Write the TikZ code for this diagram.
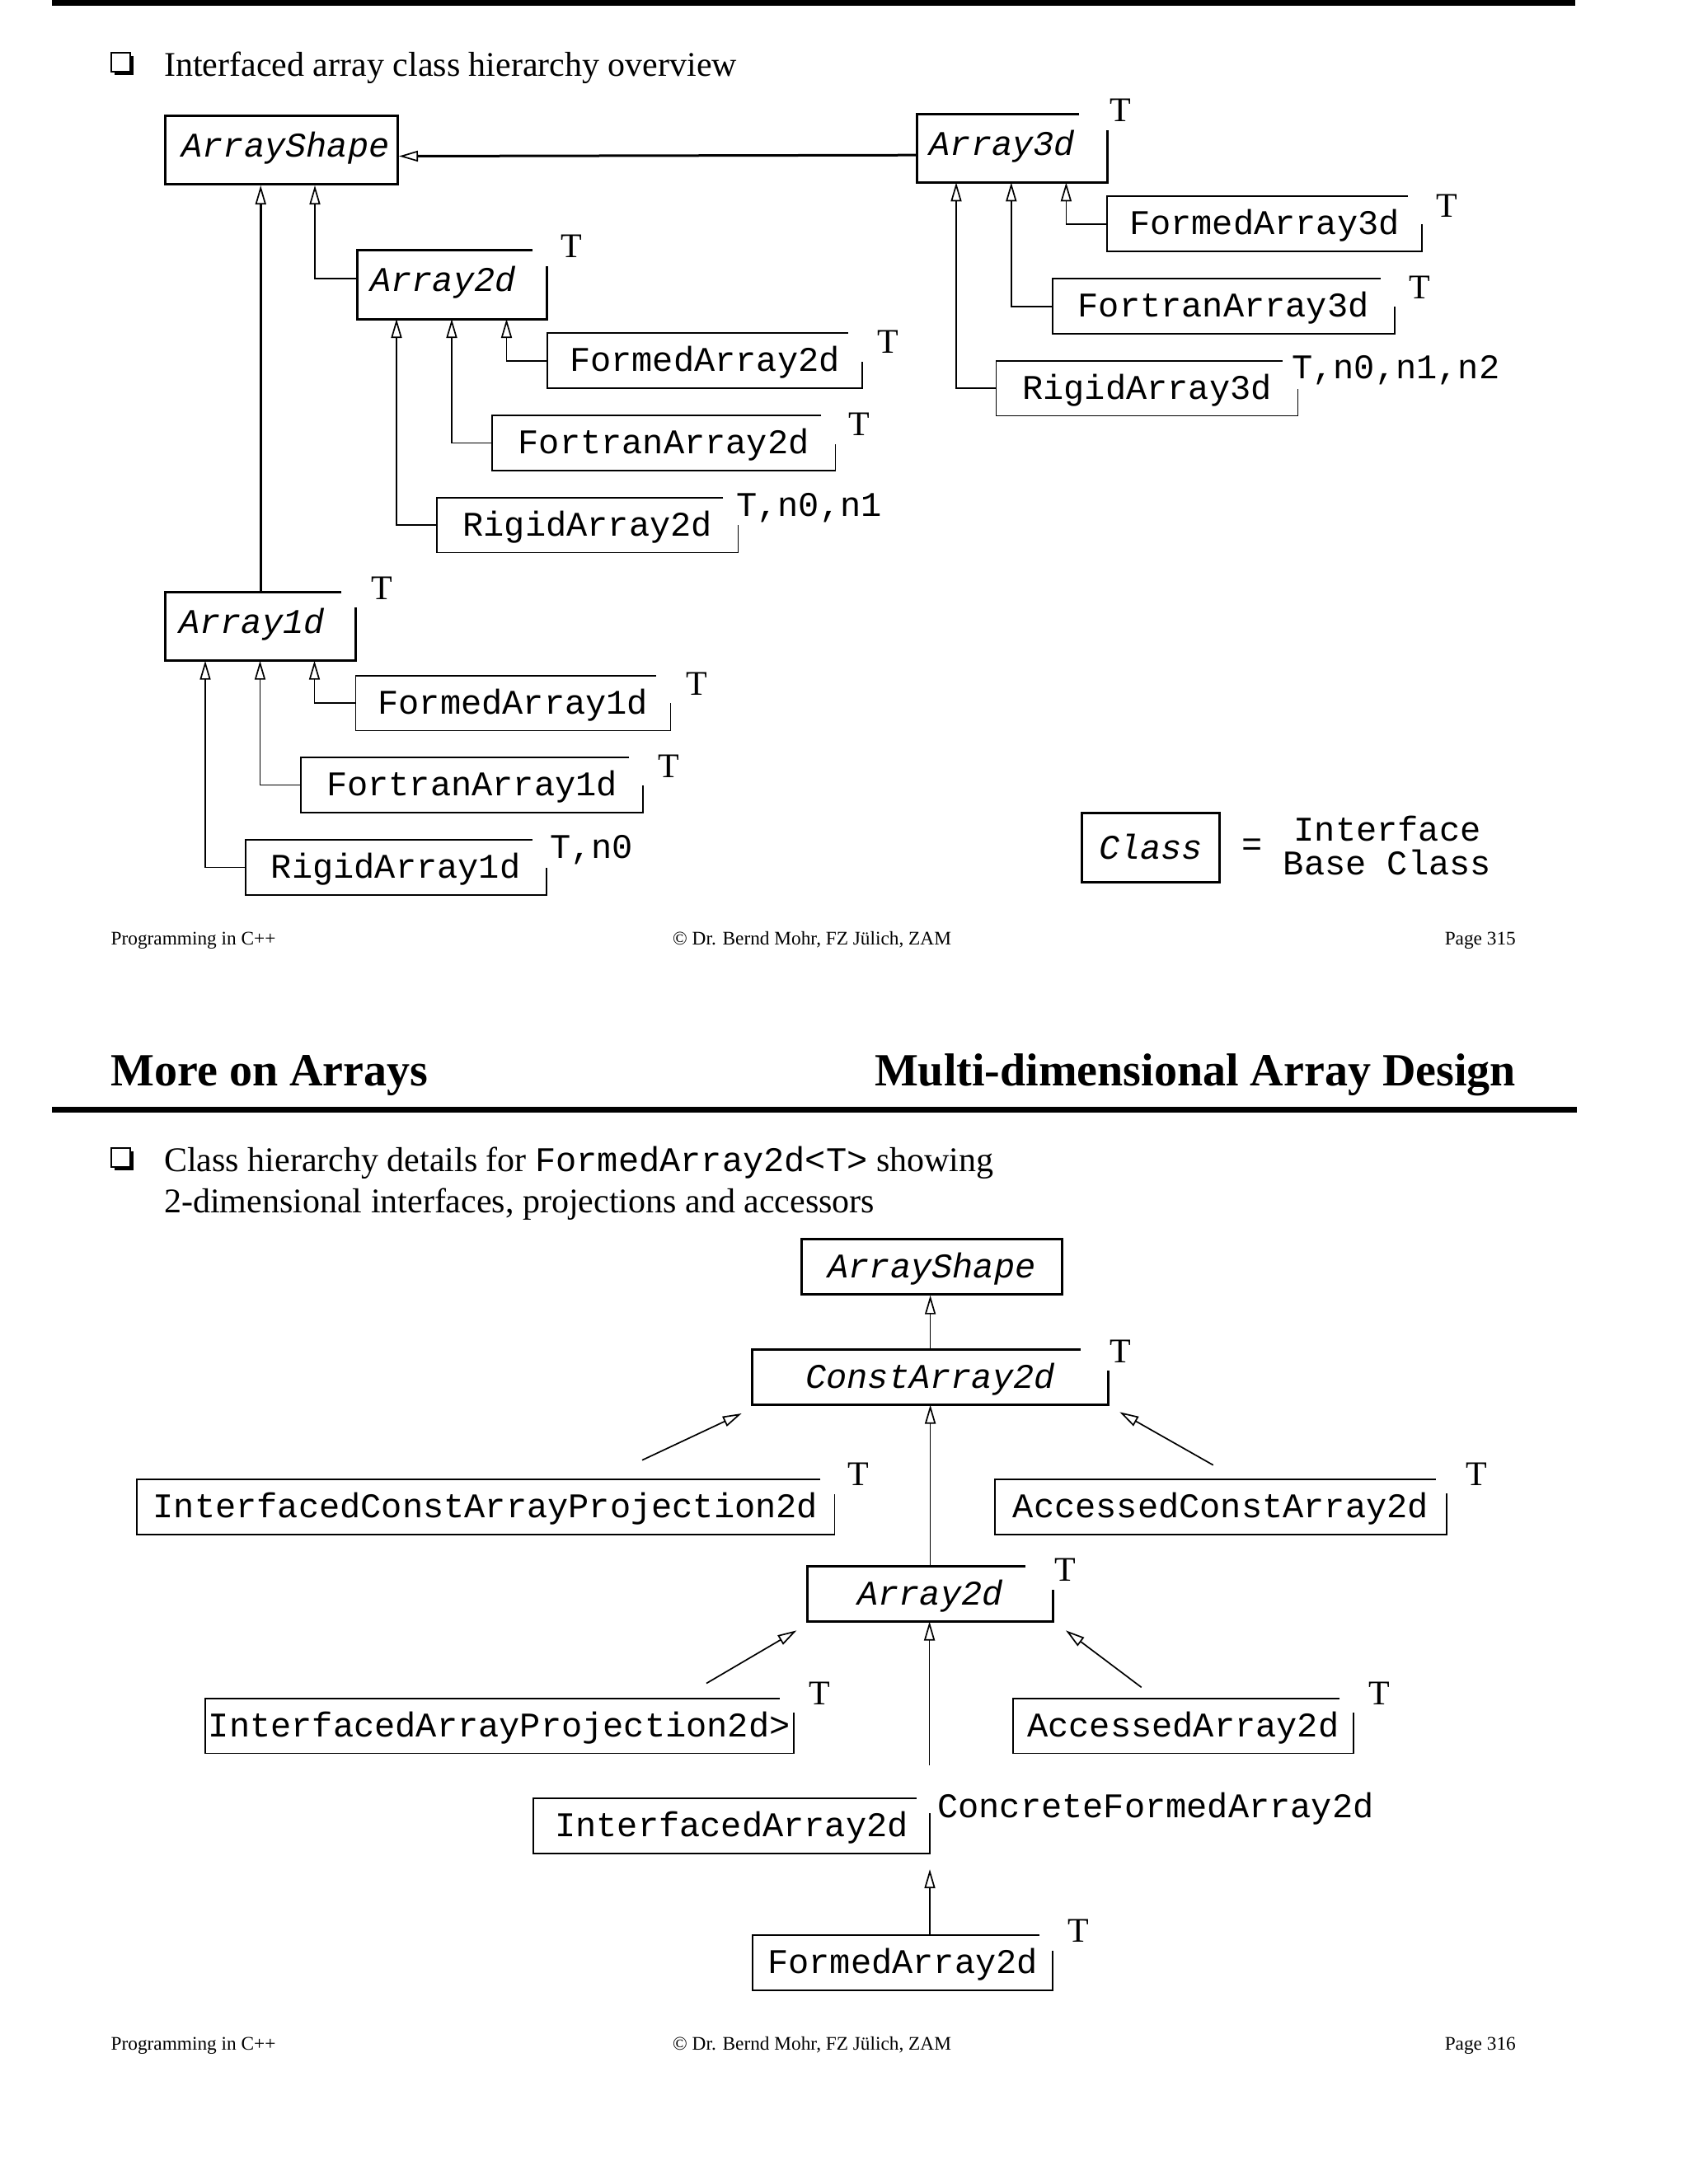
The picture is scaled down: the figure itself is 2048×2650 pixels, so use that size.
\documentclass[tikz,border=0pt]{standalone}
\usepackage{fontspec}
\setmainfont{Liberation Serif}
\setmonofont{Liberation Mono}
\usetikzlibrary{arrows.meta}

\newcommand\bodyfnt{\fontsize{42pt}{50pt}\selectfont}
\newcommand\monofnt{\fontsize{42pt}{50pt}\selectfont\ttfamily}
\newcommand\monoitfnt{\fontsize{42pt}{50pt}\selectfont\ttfamily\itshape}
\newcommand\footfnt{\fontsize{23.3pt}{28pt}\selectfont}
\newcommand\headfnt{\fontsize{56pt}{66pt}\selectfont\bfseries}
\newcommand\lp[3]{\hbox to #1pt{\hskip #2pt\relax #3\hfil}}
% template box: node, horizontal gap, vertical gap, style
\newcommand\tpl[4]{\draw[#4] ([xshift=-#2pt]#1.north east) -- (#1.north west) -- (#1.south west) -- (#1.south east) -- ([yshift=-#3pt]#1.north east);}

\tikzset{
  cbox/.style={inner sep=0pt, text height=46.4pt, text depth=20pt, font=\monofnt, anchor=north west},
  ibox/.style={inner sep=0pt, text height=50pt, text depth=33pt, font=\monoitfnt, anchor=north west},
  iline/.style={line width=3pt, line join=miter},
  cline/.style={line width=1.8pt, line join=miter},
  inh/.style={line width=1.7pt, -{Triangle[open,length=23pt,width=13pt]}},
  inhthick/.style={line width=3pt, -{Triangle[open,length=23pt,width=13pt,line width=1.7pt]}},
  tlab/.style={font=\bodyfnt, anchor=base west, inner sep=0pt},
  plab/.style={font=\monofnt, anchor=base west, inner sep=0pt},
  txt/.style={font=\bodyfnt, anchor=base west, inner sep=0pt},
  foot/.style={font=\footfnt, inner sep=0pt},
  head/.style={font=\headfnt, inner sep=0pt}
}

\begin{document}
\begin{tikzpicture}[x=1pt,y=-1pt]
\useasboundingbox (0,0) rectangle (2048,2650);
\fill[white] (0,0) rectangle (2048,2650);

% ---------- page 315 ----------
\fill (63,0) rectangle (1911,6.5);
\fill (139,68) rectangle (162,91);
\filldraw[fill=white, line width=1.5pt] (135,64) rectangle (158,87);
\node[txt] (b1) at (199,92.5) {Interfaced array class hierarchy overview};

% interface classes
\node[ibox, draw, line width=3pt] (as1) at (199,139) {\lp{282}{20}{ArrayShape}};
\node[ibox] (a3) at (1112,138) {\lp{231}{15.5}{Array3d}}; \tpl{a3}{34}{20}{iline}
\node[ibox] (a2) at (433.5,303.6) {\lp{230}{15.5}{Array2d}}; \tpl{a2}{17.6}{19.4}{iline}
\node[ibox] (a1) at (200.7,718.3) {\lp{230.7}{16.3}{Array1d}}; \tpl{a1}{17.4}{18.7}{iline}

% concrete classes 2d
\node[cbox, minimum width=381.7pt] (fa2) at (663.8,404.3) {FormedArray2d}; \tpl{fa2}{17}{35}{cline}
\node[cbox, minimum width=416pt] (ft2) at (597,504) {FortranArray2d}; \tpl{ft2}{17}{35}{cline}
\node[cbox, minimum width=365pt] (ra2) at (530,603.7) {RigidArray2d}; \tpl{ra2}{18}{33}{cline}
% concrete classes 1d
\node[cbox, minimum width=381.6pt] (fa1) at (431.4,819.7) {FormedArray1d}; \tpl{fa1}{17.6}{33.3}{cline}
\node[cbox, minimum width=415.1pt] (ft1) at (364.8,919) {FortranArray1d}; \tpl{ft1}{17}{34.3}{cline}
\node[cbox, minimum width=364.5pt] (ra1) at (297.7,1019) {RigidArray1d}; \tpl{ra1}{17}{34}{cline}
% concrete classes 3d
\node[cbox, minimum width=381.7pt] (fa3) at (1342.8,238.3) {FormedArray3d}; \tpl{fa3}{17}{34}{cline}
\node[cbox, minimum width=414.5pt] (ft3) at (1276.7,338.3) {FortranArray3d}; \tpl{ft3}{17}{34}{cline}
\node[cbox, minimum width=365.7pt] (ra3) at (1208.4,437.7) {RigidArray3d}; \tpl{ra3}{19}{34}{cline}

% template parameters
\node[tlab] (ta3) at (1346,147) {T};
\node[tlab] (ta2) at (680,312) {T};
\node[tlab] (ta1) at (450,727) {T};
\node[tlab] (tfa2) at (1064,428) {T};
\node[tlab] (tft2) at (1029,528) {T};
\node[plab] (tra2) at (893,626) {T,n0,n1};
\node[tlab] (tfa1) at (832,843) {T};
\node[tlab] (tft1) at (798,943) {T};
\node[plab] (tra1) at (667,1041) {T,n0};
\node[tlab] (tfa3) at (1742,263) {T};
\node[tlab] (tft3) at (1709,362) {T};
\node[plab] (tra3) at (1567,459) {T,n0,n1,n2};

% connectors
\draw[inhthick] ([yshift=-8.5pt]a3.west) -- ([yshift=-7.5pt]as1.east);
\draw[inhthick] (a1.north) -- (a1.north |- as1.south);
\draw[inh] ([yshift=7pt]a2.west) -| ([xshift=183pt]as1.south west);
\draw[inh] (fa2.west) -| ([xshift=181pt]a2.south west);
\draw[inh] (ft2.west) -| ([xshift=114.5pt]a2.south west);
\draw[inh] (ra2.west) -| ([xshift=47.5pt]a2.south west);
\draw[inh] (fa1.west) -| ([xshift=180.8pt]a1.south west);
\draw[inh] (ft1.west) -| ([xshift=114.8pt]a1.south west);
\draw[inh] (ra1.west) -| ([xshift=48.3pt]a1.south west);
\draw[inh] (fa3.west) -| ([xshift=181.4pt]a3.south west);
\draw[inh] (ft3.west) -| ([xshift=114.8pt]a3.south west);
\draw[inh] (ra3.west) -| ([xshift=48pt]a3.south west);

% legend
\node[inner sep=0pt, text height=55.7pt, text depth=28.3pt, font=\monoitfnt, anchor=north west,
      minimum width=166.2pt, draw, line width=3pt] (cls) at (1311.4,985) {Class};
\node[font=\monofnt, inner sep=0pt] (eq) at (1519,1028) {=};
\node[font=\monofnt, anchor=base, inner sep=0pt] (lg1) at (1683,1020) {Interface};
\node[font=\monofnt, anchor=base, inner sep=0pt] (lg2) at (1683,1061.7) {Base Class};

% footer 315
\node[foot, anchor=base west] (f1a) at (134.5,1146) {Programming in C++};
\node[foot, anchor=base west] (f1b) at (816,1146) {© Dr. Bernd Mohr, FZ Jülich, ZAM};
\node[foot, anchor=base east] (f1c) at (1839,1146) {Page 315};

% ---------- page 316 ----------
\node[head, anchor=base west] (h1) at (134.5,1317) {More on Arrays};
\node[head, anchor=base east] (h2) at (1839,1317) {Multi-dimensional Array Design};
\fill (63,1343) rectangle (1913,1349.5);

\fill (139,1397) rectangle (162,1420);
\filldraw[fill=white, line width=1.5pt] (135,1393) rectangle (158,1416);
\node[txt] (b2) at (199,1421) {Class hierarchy details for {\ttfamily FormedArray2d<T>} showing};
\node[txt] (b3) at (199,1471) {2-dimensional interfaces, projections and accessors};

\node[cbox, font=\monoitfnt, draw, line width=3pt, minimum width=315.7pt] (bas) at (971.2,1502.3) {ArrayShape};
\node[cbox, font=\monoitfnt, minimum width=431.8pt] (ca2) at (912.5,1637.7) {ConstArray2d}; \tpl{ca2}{34}{25}{iline}
\node[cbox, minimum width=846.3pt] (icap) at (165.7,1795) {InterfacedConstArrayProjection2d}; \tpl{icap}{17}{17.7}{cline}
\node[cbox, minimum width=547.2pt] (aca) at (1207.1,1795) {AccessedConstArray2d}; \tpl{aca}{13}{17}{cline}
\node[cbox, font=\monoitfnt, minimum width=297.8pt] (ba2) at (979.5,1900.7) {Array2d}; \tpl{ba2}{34}{28.6}{iline}
\node[cbox, minimum width=713.6pt] (iap) at (248.7,2060.7) {InterfacedArrayProjection2d>}; \tpl{iap}{17}{17.6}{cline}
\node[cbox, minimum width=413.2pt] (aa) at (1228.6,2060.7) {AccessedArray2d}; \tpl{aa}{17}{17.6}{cline}
\node[cbox, minimum width=480.6pt] (ia) at (647,2182.3) {InterfacedArray2d}; \tpl{ia}{16.4}{17.7}{cline}
\node[cbox, minimum width=363.2pt] (bfa) at (913.3,2348.3) {FormedArray2d}; \tpl{bfa}{16.3}{18.4}{cline}

\node[tlab] (tca2) at (1346,1653) {T};
\node[tlab] (ticap) at (1028,1802) {T};
\node[tlab] (taca) at (1778,1802) {T};
\node[tlab] (tba2) at (1279,1918) {T};
\node[tlab] (tiap) at (981,2068) {T};
\node[tlab] (taa) at (1660,2068) {T};
\node[plab] (tia) at (1137,2205) {ConcreteFormedArray2d};
\node[tlab] (tbfa) at (1295,2356) {T};

\coordinate (icapT) at (779,1771.7);  \coordinate (ca2L) at (899.7,1715);
\coordinate (acaT) at (1471.8,1777.7); \coordinate (ca2R) at (1358.3,1713.3);
\coordinate (iapT) at (857,2042.5);   \coordinate (ba2L) at (966.4,1978.3);
\coordinate (aaT) at (1384.7,2047.3); \coordinate (ba2R) at (1293,1978.3);
\coordinate (iaT) at (1127.6,2141.7);

\draw[inh] (ca2.north) -- (ca2.north |- bas.south);
\draw[inh] (ba2.north) -- (ba2.north |- ca2.south);
\draw[inh] (icapT) -- (ca2L);
\draw[inh] (acaT) -- (ca2R);
\draw[inh] (iapT) -- (ba2L);
\draw[inh] (aaT) -- (ba2R);
\draw[inh] (iaT) -- (iaT |- ba2.south);
\draw[inh] (bfa.north -| ia.south east) -- ([yshift=-19pt]ia.south east);

% footer 316
\node[foot, anchor=base west] (f2a) at (134.5,2487) {Programming in C++};
\node[foot, anchor=base west] (f2b) at (816,2487) {© Dr. Bernd Mohr, FZ Jülich, ZAM};
\node[foot, anchor=base east] (f2c) at (1839,2487) {Page 316};
\end{tikzpicture}
\end{document}
